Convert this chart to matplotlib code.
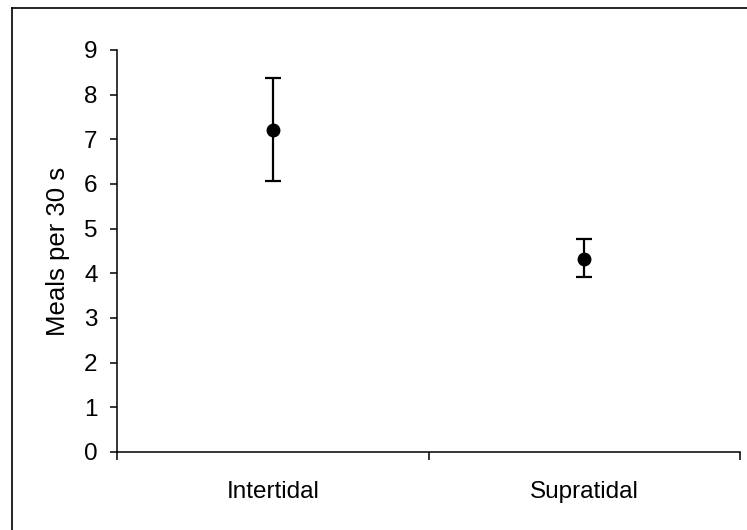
import matplotlib
matplotlib.use("Agg")
import matplotlib.pyplot as plt
from matplotlib.lines import Line2D

categories = ["Intertidal", "Supratidal"]
means = [7.22, 4.33]
upper = [8.38, 4.77]
lower = [6.06, 3.91]

plt.rcParams['font.family'] = ['Liberation Sans', 'DejaVu Sans']

fig = plt.figure(figsize=(7.47, 5.30), dpi=100)
ax = fig.add_axes([117/747, 1-452/530, (740-117)/747, (452-50)/530])

xpos = [0.5, 1.5]
yerr = [[m - l for m, l in zip(means, lower)], [u - m for u, m in zip(upper, means)]]
ax.errorbar(xpos, means, yerr=yerr, fmt='o', color='black', ecolor='black',
            markersize=9, elinewidth=1.6, capsize=6, capthick=1.6)

ax.set_xlim(0, 2)
ax.set_ylim(0, 9)
ax.set_yticks(range(0, 10))
ax.set_xticks([0, 1, 2])
ax.set_xticklabels([])
ax.set_xticks(xpos, minor=True)
ax.set_xticklabels(categories, minor=True)
ax.tick_params(axis='x', which='minor', length=0, pad=21, labelsize=17.5)
ax.tick_params(axis='x', which='major', length=6, width=1.1, direction='out')
ax.tick_params(axis='y', length=5, width=1.1, direction='out', labelsize=17.5, pad=9)
ax.set_ylabel("Meals per 30 s", fontsize=18.5, labelpad=10)

for s in ['top', 'right']:
    ax.spines[s].set_visible(False)
for s in ['left', 'bottom']:
    ax.spines[s].set_linewidth(1.1)

# outer border (partly cropped)
fig.add_artist(Line2D([12/747, 12/747], [0, 1-8/530], transform=fig.transFigure, color='black', lw=1.2))
fig.add_artist(Line2D([12/747, 1], [1-8/530, 1-8/530], transform=fig.transFigure, color='black', lw=1.2))

fig.savefig("out.png", dpi=100)
